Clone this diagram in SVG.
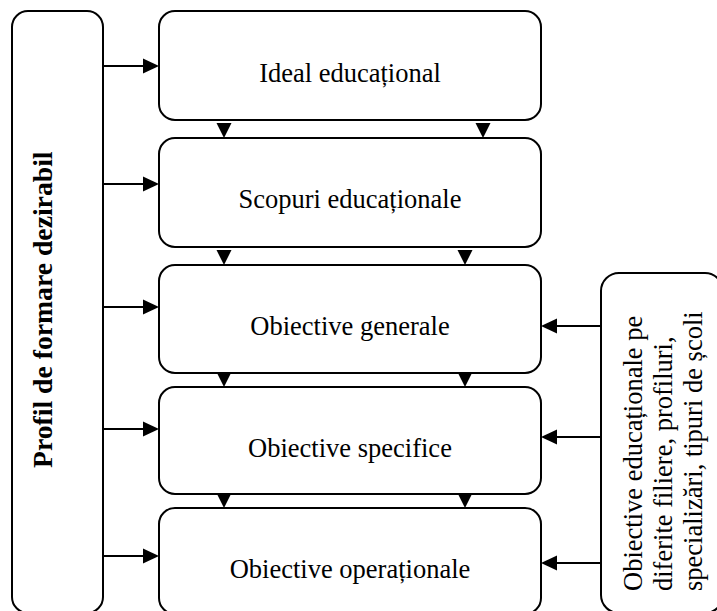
<svg xmlns="http://www.w3.org/2000/svg" width="717" height="611" viewBox="0 0 717 611">
  <defs>
    <style>
      .box { fill: #ffffff; stroke: #000000; stroke-width: 2; }
      .line { stroke: #000000; stroke-width: 2; fill: none; }
      .head { fill: #000000; stroke: none; }
      .label { font-family: "Liberation Serif", "Times New Roman", serif; font-size: 26.5px; fill: #000000; }
      .center { text-anchor: middle; }
      .bold { font-weight: bold; font-size: 27.7px; }
    </style>
    <!-- arrowheads: tip at origin -->
    <path id="headDown" d="M0,0 L-7.5,-15 L7.5,-15 Z"/>
    <path id="headRight" d="M0,0 L-16,-7.5 L-16,7.5 Z"/>
    <path id="headLeft" d="M0,0 L16,-7.5 L16,7.5 Z"/>
  </defs>

  <rect width="717" height="611" fill="#ffffff"/>

  <!-- left column -->
  <g id="profil">
    <rect class="box" x="12" y="11" width="91" height="602" rx="16" ry="16"/>
    <text class="label bold" transform="translate(52,468) rotate(-90)">Profil de formare dezirabil</text>
  </g>

  <!-- central chain -->
  <g id="ideal">
    <rect class="box" x="159" y="11" width="382" height="109" rx="16" ry="16"/>
    <text class="label center" x="350" y="82">Ideal educațional</text>
  </g>
  <g id="scopuri">
    <rect class="box" x="159" y="138" width="382" height="109" rx="16" ry="16"/>
    <text class="label center" x="350" y="208">Scopuri educaționale</text>
  </g>
  <g id="generale">
    <rect class="box" x="159" y="265" width="382" height="108" rx="16" ry="16"/>
    <text class="label center" x="350" y="335">Obiective generale</text>
  </g>
  <g id="specifice">
    <rect class="box" x="159" y="387" width="382" height="107" rx="16" ry="16"/>
    <text class="label center" x="350" y="457">Obiective specifice</text>
  </g>
  <g id="operationale">
    <rect class="box" x="159" y="508" width="382" height="106" rx="16" ry="16"/>
    <text class="label center" x="350" y="578">Obiective operaționale</text>
  </g>

  <!-- right column -->
  <g id="filiere">
    <rect class="box" x="601" y="273" width="122" height="340" rx="18" ry="18"/>
    <text class="label" transform="translate(642,591) rotate(-90)">
      <tspan x="0" y="0">Obiective educaționale pe</tspan>
      <tspan x="0" y="30">diferite filiere, profiluri,</tspan>
      <tspan x="0" y="60">specializări, tipuri de școli</tspan>
    </text>
  </g>

  <!-- connectors -->
  <g id="connectors">
    <!-- from the left column -->
    <line class="line" x1="103" y1="66" x2="145" y2="66"/>
    <line class="line" x1="103" y1="184" x2="145" y2="184"/>
    <line class="line" x1="103" y1="307" x2="145" y2="307"/>
    <line class="line" x1="103" y1="429" x2="145" y2="429"/>
    <line class="line" x1="103" y1="556" x2="145" y2="556"/>
    <use href="#headRight" class="head" x="159" y="66"/>
    <use href="#headRight" class="head" x="159" y="184"/>
    <use href="#headRight" class="head" x="159" y="307"/>
    <use href="#headRight" class="head" x="159" y="429"/>
    <use href="#headRight" class="head" x="159" y="556"/>

    <!-- from the right column -->
    <line class="line" x1="601" y1="326" x2="555" y2="326"/>
    <line class="line" x1="601" y1="437" x2="555" y2="437"/>
    <line class="line" x1="601" y1="563" x2="555" y2="563"/>
    <use href="#headLeft" class="head" x="541" y="326"/>
    <use href="#headLeft" class="head" x="541" y="437"/>
    <use href="#headLeft" class="head" x="541" y="563"/>

    <!-- between central boxes -->
    <use href="#headDown" class="head" x="224" y="138"/>
    <use href="#headDown" class="head" x="483" y="138"/>
    <use href="#headDown" class="head" x="224" y="265"/>
    <use href="#headDown" class="head" x="465" y="265"/>
    <use href="#headDown" class="head" x="224" y="387"/>
    <use href="#headDown" class="head" x="465" y="387"/>
    <use href="#headDown" class="head" x="224" y="508"/>
    <use href="#headDown" class="head" x="465" y="508"/>
  </g>
</svg>
